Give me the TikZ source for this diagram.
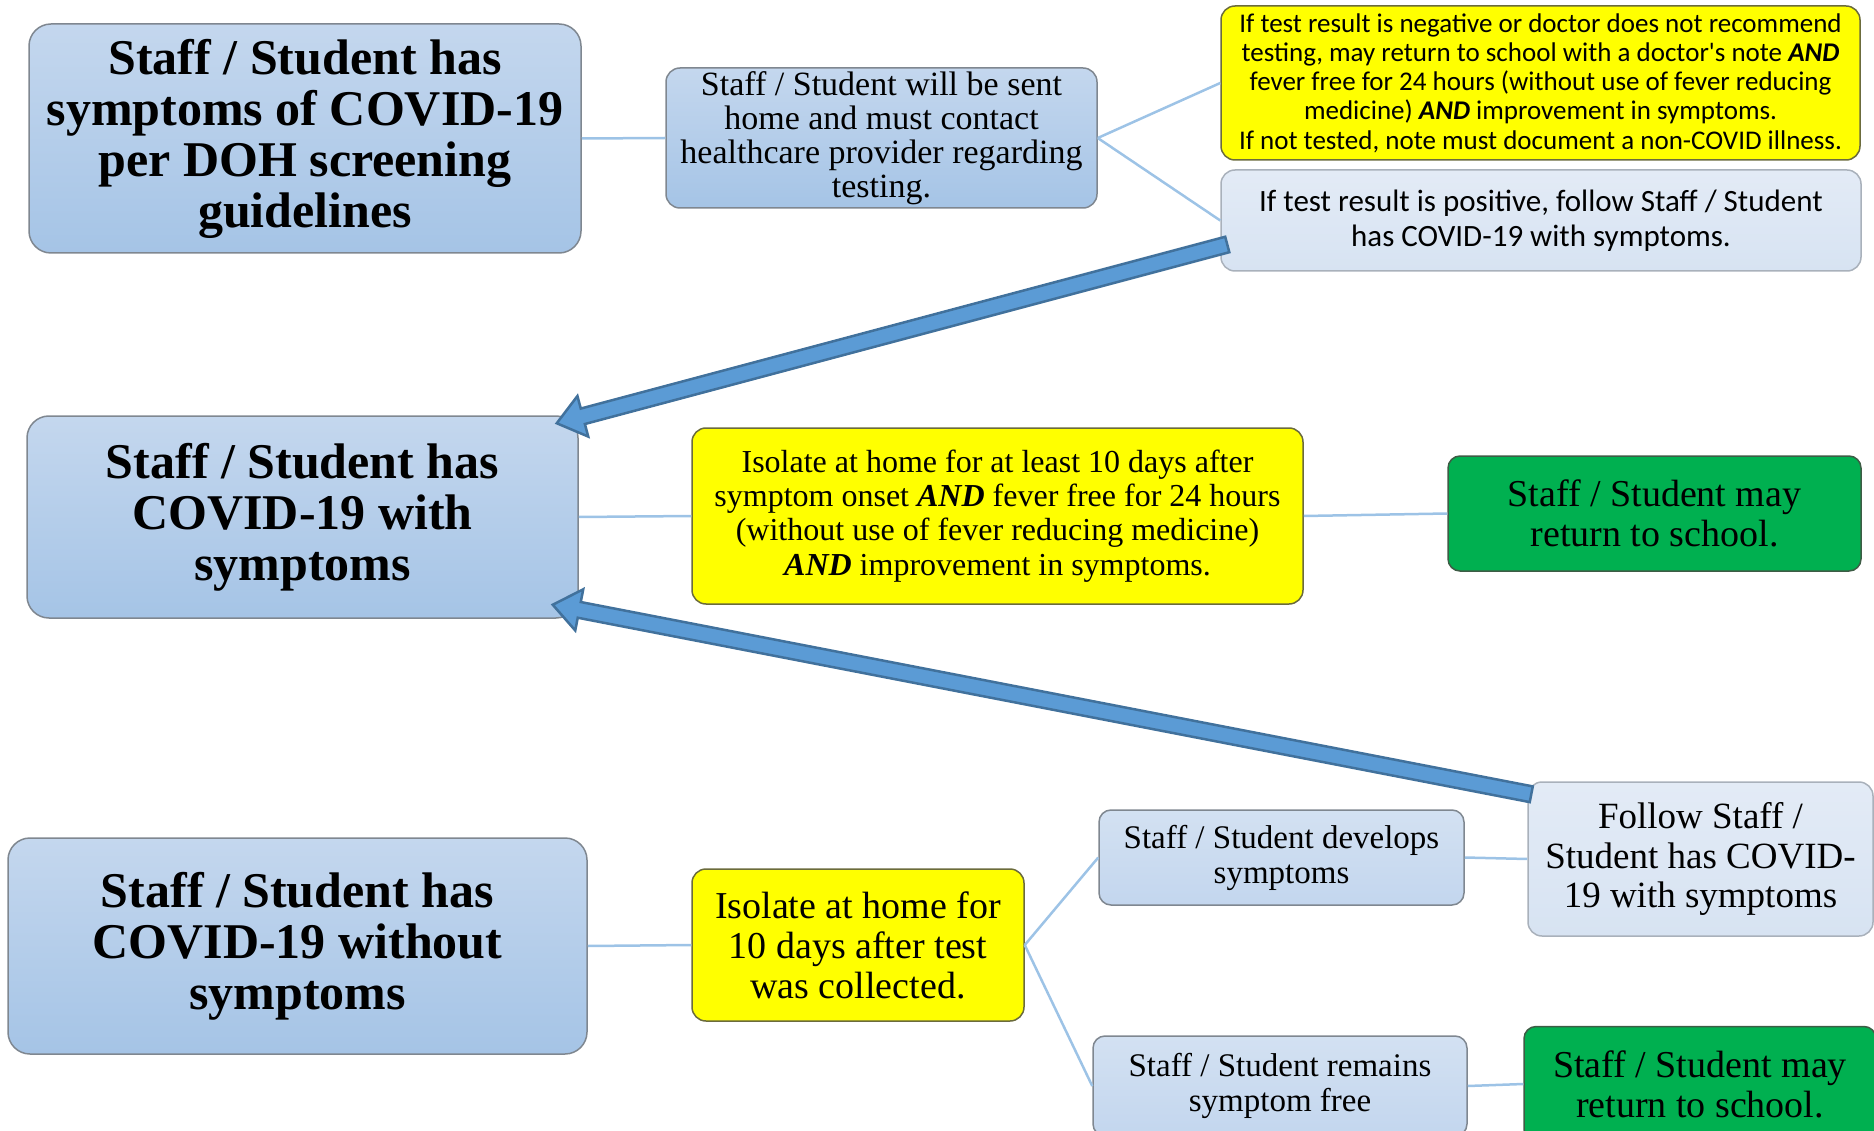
\documentclass[tikz,border=0pt]{standalone}
\usepackage{fontspec}
\setmainfont{Liberation Serif}
\newfontfamily\calibri{Carlito}
\usetikzlibrary{calc}

\definecolor{bluetop}{HTML}{C4D7EE}
\definecolor{bluebot}{HTML}{A5C4E6}
\definecolor{midtop}{HTML}{D3E1F2}
\definecolor{midbot}{HTML}{C3D6EE}
\definecolor{paletop}{HTML}{E3EBF6}
\definecolor{palebot}{HTML}{D7E3F2}
\definecolor{boxline}{HTML}{7F8790}
\definecolor{paleline}{HTML}{A9B1BB}
\definecolor{note}{HTML}{FFFF00}
\definecolor{noteline}{HTML}{6B6B3C}
\definecolor{go}{HTML}{00B050}
\definecolor{goline}{HTML}{3D5C45}
\definecolor{link}{HTML}{9DC3E6}
\definecolor{fatfill}{HTML}{5B9BD5}
\definecolor{fatline}{HTML}{41719C}

% block arrow from #1 (tail) to #2 (tip)
\newcommand{\fatarrow}[2]{%
  \coordinate (base) at ($(#2)!27pt!(#1)$);
  \filldraw[fatline, fill=fatfill, line width=2.5pt, line join=miter]
    ($(#1)!8pt!90:(#2)$) -- ($(base)!8pt!-90:(#1)$) -- ($(base)!21pt!-90:(#1)$)
    -- (#2) -- ($(base)!21pt!90:(#1)$) -- ($(base)!8pt!90:(#1)$)
    -- ($(#1)!8pt!-90:(#2)$) -- cycle;
}

\begin{document}
\begin{tikzpicture}[x=1pt, y=-1pt,
    box/.style={rectangle, draw=boxline, line width=1.5pt, align=center, inner sep=0pt},
    title/.style={box, rounded corners=22pt, top color=bluetop, bottom color=bluebot,
      font=\bfseries\fontsize{50}{51}\selectfont},
    sent/.style={box, rounded corners=14pt, top color=bluetop, bottom color=bluebot,
      font=\fontsize{34}{34}\selectfont},
    midbox/.style={box, rounded corners=12pt, top color=midtop, bottom color=midbot,
      font=\fontsize{33}{35}\selectfont},
    palebox/.style={box, draw=paleline, rounded corners=14pt, top color=paletop, bottom color=palebot},
    notebox/.style={box, draw=noteline, rounded corners=14pt, fill=note},
    gobox/.style={box, draw=goline, rounded corners=12pt, fill=go,
      font=\fontsize{38}{40}\selectfont},
    link/.style={draw=link, line width=2.5pt}]

  \useasboundingbox (0,0) rectangle (1874,1131);
  \clip (0,0) rectangle (1874,1131);

  \node[title, minimum width=552pt, minimum height=229pt] (screen) at (305,138.5)
    {Staff / Student has\\symptoms of COVID-19\\per DOH screening\\guidelines};
  \node[sent, minimum width=431pt, minimum height=140pt] (home) at (881.5,138)
    {Staff / Student will be sent\\home and must contact\\healthcare provider regarding\\testing.};
  \node[notebox, minimum width=639pt, minimum height=154pt, font=\calibri\fontsize{27}{29.3}\selectfont] (neg) at (1540.5,83)
    {If test result is negative or doctor does not recommend\\
     testing, may return to school with a doctor's note \textbf{\textit{AND}}\\
     fever free for 24 hours (without use of fever reducing\\
     medicine) \textbf{\textit{AND}} improvement in symptoms.\\
     If not tested, note must document a non-COVID illness.};
  \node[palebox, minimum width=640pt, minimum height=101pt, font=\calibri\fontsize{31}{34.5}\selectfont] (pos) at (1541,220.5)
    {If test result is positive, follow Staff / Student\\has COVID-19 with symptoms.};

  \node[title, minimum width=551pt, minimum height=202pt] (withsym) at (302.5,517)
    {Staff / Student has\\COVID-19 with\\symptoms};
  \node[notebox, minimum width=611pt, minimum height=176pt, font=\fontsize{32}{34.3}\selectfont] (isoten) at (997.5,516)
    {Isolate at home for at least 10 days after\\
     symptom onset \textbf{\textit{AND}} fever free for 24 hours\\
     (without use of fever reducing medicine)\\
     \textbf{\textit{AND}} improvement in symptoms.};
  \node[gobox, minimum width=413pt, minimum height=115pt] (backone) at (1654.5,513.5)
    {Staff / Student may\\return to school.};

  \node[title, minimum width=579pt, minimum height=216pt] (nosym) at (297.5,946)
    {Staff / Student has\\COVID-19 without\\symptoms};
  \node[notebox, minimum width=332pt, minimum height=152pt, font=\fontsize{38}{40}\selectfont] (isotest) at (858,945)
    {Isolate at home for\\10 days after test\\was collected.};
  \node[midbox, minimum width=365pt, minimum height=95pt] (develops) at (1281.5,857.5)
    {Staff / Student develops\\symptoms};
  \node[palebox, minimum width=345pt, minimum height=154pt, font=\fontsize{37}{39.5}\selectfont] (follow) at (1700.5,859)
    {Follow Staff /\\Student has COVID-\\19 with symptoms};
  \node[midbox, minimum width=374pt, minimum height=100pt] (remains) at (1280,1086)
    {Staff / Student remains\\symptom free};
  \node[gobox, minimum width=352pt, minimum height=115pt] (backtwo) at (1700,1084)
    {Staff / Student may\\return to school.};

  \draw[link] (screen.east) -- (home.west);
  \draw[link] (home.east) -- (neg.west);
  \draw[link] (home.east) -- (pos.west);
  \draw[link] (withsym.east) -- (isoten.west);
  \draw[link] (isoten.east) -- (backone.west);
  \draw[link] (nosym.east) -- (isotest.west);
  \draw[link] (isotest.east) -- (develops.west);
  \draw[link] (isotest.east) -- (remains.west);
  \draw[link] (develops.east) -- (follow.west);
  \draw[link] (remains.east) -- (backtwo.west);

  \coordinate (tailone) at ($(pos.west)+(7,24)$);
  \coordinate (tipone) at ($(withsym.north east)+(-22,8)$);
  \coordinate (tailtwo) at ($(follow.north west)+(4,13)$);
  \coordinate (tiptwo) at ($(withsym.south east)+(-26,-14)$);
  \fatarrow{tailone}{tipone}
  \fatarrow{tailtwo}{tiptwo}
\end{tikzpicture}
\end{document}
